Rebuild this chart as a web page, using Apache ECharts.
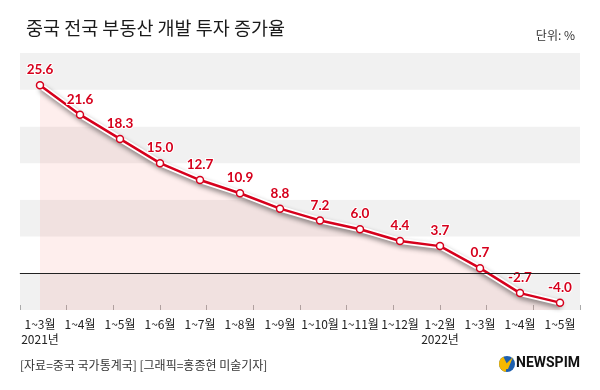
<!DOCTYPE html>
<html><head><meta charset="utf-8">
<script src="https://cdn.jsdelivr.net/npm/echarts@6/dist/echarts.min.js"></script>
<style>html,body{margin:0;padding:0;background:#fff}#c{width:600px;height:390px}</style>
</head><body><div id="c"></div>
<script>
var categories = ['1~3월\n2021년','1~4월','1~5월','1~6월','1~7월','1~8월','1~9월','1~10월','1~11월','1~12월','1~2월\n2022년','1~3월','1~4월','1~5월'];
var values = [25.6, 21.6, 18.3, 15.0, 12.7, 10.9, 8.8, 7.2, 6.0, 4.4, 3.7, 0.7, -2.7, -4.0];
var tickSlots = ['','','','','','','','','','','','']; // 12 decorative tick intervals
var yMin = -5, yMax = 30, yStep = 5;

var RED = '#d6001c';
var chart = echarts.init(document.getElementById('c'), null, {renderer:'canvas'});
chart.setOption({
  animation:false,
  backgroundColor:'#fff',
  grid:{left:20,right:20,top:53,bottom:80,containLabel:false},
  title:[
    {text:'중국 전국 부동산 개발 투자 증가율',left:21,top:14,textStyle:{fontFamily:'Noto Sans CJK KR',fontSize:18.5,fontWeight:'normal',color:'#1a1a1a'}},
    {text:'단위: %',right:20,top:24,textStyle:{fontFamily:'Noto Sans CJK KR',fontSize:12,fontWeight:'normal',color:'#333'}}
  ],
  xAxis:[
    {type:'category',data:categories,boundaryGap:true,
     axisLine:{lineStyle:{color:'#aaa',width:1}},axisTick:{show:false},
     axisLabel:{interval:0,margin:7,fontFamily:'Noto Sans CJK KR',fontSize:12,color:'#222',lineHeight:15}},
    {type:'category',data:tickSlots,boundaryGap:true,position:'bottom',
     axisLine:{show:false},axisLabel:{show:false},
     axisTick:{show:true,inside:true,length:5,lineStyle:{color:'#aaa'}}}
  ],
  yAxis:{type:'value',min:yMin,max:yMax,interval:yStep,
    axisLine:{show:false},axisTick:{show:false},axisLabel:{show:false},
    splitLine:{show:false},
    splitArea:{show:true,areaStyle:{color:['#f1f1f1','#ffffff']}}},
  series:[
    {type:'line',data:values,symbol:'none',silent:true,z:2,
     lineStyle:{color:'#fff',width:6,shadowColor:'rgba(0,0,0,0.45)',shadowBlur:5,shadowOffsetX:1,shadowOffsetY:3},
     areaStyle:{origin:'start',color:'rgba(240,70,60,0.13)',shadowColor:'transparent'},
     markLine:{silent:true,symbol:'none',label:{show:false},lineStyle:{color:'#222',width:1,type:'solid'},data:[{yAxis:0}]}
    },
    {type:'line',data:values,z:3,symbol:'circle',symbolSize:7,
     lineStyle:{color:RED,width:2.5},
     itemStyle:{color:'#fff',borderColor:RED,borderWidth:1.5},
     label:{show:true,position:'top',distance:4,fontFamily:'Lato',fontWeight:'bold',fontSize:13.5,color:RED,
       textBorderColor:'#fff',textBorderWidth:2,
       formatter:function(p){return p.value.toFixed(1);}}
    }
  ],
  graphic:[
    {type:'text',left:20,top:359,style:{text:'[자료=중국 국가통계국] [그래픽=홍종현 미술기자]',font:'12px "Noto Sans CJK KR"',fill:'#333'}},
    {type:'circle',shape:{cx:507,cy:364,r:8},style:{fill:'#1d5fae'}},
    {type:'sector',shape:{cx:507,cy:364,r:8,r0:0,startAngle:Math.PI*0.55,endAngle:Math.PI*1.35},style:{fill:'#f5b800'}},
    {type:'polygon',shape:{points:[[501,369],[513,357],[508,369]]},style:{fill:'#f5b800'}},
    {type:'text',left:516,top:356,style:{text:'NEWSPIM',font:'bold 14px "Roboto"',fill:'#111'}}
  ]
});
</script></body></html>
